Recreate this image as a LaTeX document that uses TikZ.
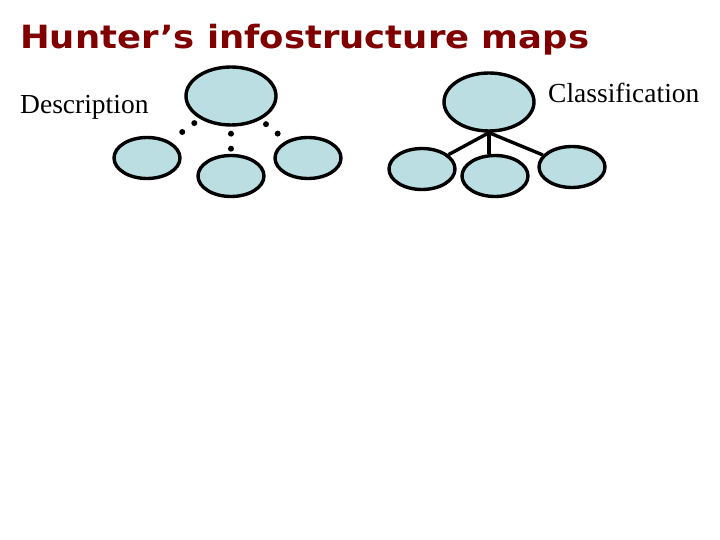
\documentclass[tikz,border=0pt]{standalone}
\usepackage{fontspec}
\setmainfont{Liberation Serif}
\newfontfamily\titlefont{DejaVu Sans}
\usepackage{tikz}
\usetikzlibrary{shapes.geometric}
\definecolor{titlered}{RGB}{128,0,0}
\definecolor{bubble}{RGB}{187,222,227}

\begin{document}
\begin{tikzpicture}[x=1pt, y=-1pt,
    bigbub/.style={draw, ellipse, fill=bubble, line width=3.4pt, minimum width=90pt, minimum height=58pt, inner sep=0pt},
    smallbub/.style={draw, ellipse, fill=bubble, line width=3.4pt, minimum width=66pt, minimum height=41pt, inner sep=0pt},
    dotlink/.style={line width=6pt, line cap=round, dash pattern=on 0pt off 15pt, shorten <=7pt, shorten >=5pt},
    solidlink/.style={line width=3.4pt}]
    \useasboundingbox (0,0) rectangle (720,540);

    \node[anchor=base west, inner sep=0pt, text=titlered, font=\titlefont\bfseries\fontsize{32}{36}\selectfont] (title) at (20,49) {\scalebox{1.107}[1]{Hunter’s infostructure maps}};
    \node[anchor=base west, inner sep=0pt, font=\fontsize{27.5}{32}\selectfont] (desc) at (20,114) {Description};
    \node[anchor=base west, inner sep=0pt, font=\fontsize{27.5}{32}\selectfont] (class) at (548,103) {Classification};

    % description map
    \node[bigbub] (D) at (231,96) {};
    \node[smallbub] (D1) at (147,158) {};
    \node[smallbub] (D2) at (231,176) {};
    \node[smallbub] (D3) at (308,158) {};

    \draw[dotlink] (D) -- (D1);
    \draw[dotlink] (D) -- (D2);
    \draw[dotlink] (D) -- (D3);

    % classification map
    \node[bigbub] (C) at (489,102) {};
    \node[smallbub] (C1) at (422,169) {};
    \node[smallbub] (C2) at (495,176) {};
    \node[smallbub] (C3) at (572,167) {};

    \draw[solidlink] (C.south) -- (C1);
    \draw[solidlink] (C.south) -- (C2.north -| C.south);
    \draw[solidlink] (C.south) -- (C3);
\end{tikzpicture}
\end{document}
